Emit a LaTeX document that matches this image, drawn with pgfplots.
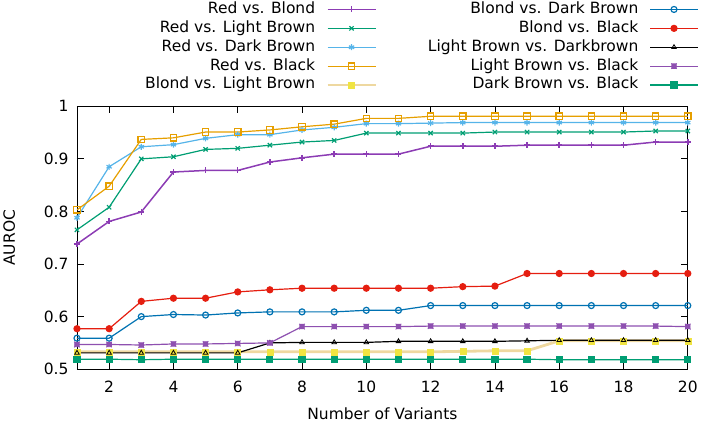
\documentclass[border=0pt]{standalone}
\usepackage{fontspec}
\setmainfont{DejaVu Sans}
\usepackage{pgfplots}
\pgfplotsset{compat=1.18}
\definecolor{cA}{HTML}{8C3CB4}
\definecolor{cB}{HTML}{009E73}
\definecolor{cC}{HTML}{56B4E9}
\definecolor{cD}{HTML}{E69F00}
\definecolor{cE}{HTML}{F0E442}
\definecolor{cEl}{HTML}{EED8A0}
\definecolor{cF}{HTML}{0072B2}
\definecolor{cG}{HTML}{E51E10}
\definecolor{cI}{HTML}{8E50B0}
\pgfdeclareplotmark{boxx}{%
  \pgfpathrectangle{\pgfpoint{-0.8\pgfplotmarksize}{-0.8\pgfplotmarksize}}{\pgfpoint{1.6\pgfplotmarksize}{1.6\pgfplotmarksize}}%
  \pgfpathmoveto{\pgfpoint{-\pgfplotmarksize}{-\pgfplotmarksize}}\pgfpathlineto{\pgfpoint{\pgfplotmarksize}{\pgfplotmarksize}}%
  \pgfpathmoveto{\pgfpoint{-\pgfplotmarksize}{\pgfplotmarksize}}\pgfpathlineto{\pgfpoint{\pgfplotmarksize}{-\pgfplotmarksize}}%
  \pgfusepathqfillstroke}
\begin{document}
\begin{tikzpicture}
\begin{axis}[
  scale only axis, width=611pt, height=263pt,
  xmin=1, xmax=20, ymin=0.5, ymax=1,
  xtick={2,4,...,20}, ytick={0.5,0.6,...,1.0},
  /pgf/number format/assume math mode=true,
  tick align=inside, major tick length=7pt,
  every tick/.style={black, line width=0.8pt},
  axis line style={line width=0.8pt},
  ticklabel style={font=\fontsize{15.5}{18}\selectfont},
  xticklabel style={yshift=-8pt},
  yticklabel style={xshift=-5pt},
  yticklabel style={/pgf/number format/.cd, fixed, precision=1},
  xlabel={Number of Variants}, ylabel={AUROC},
  label style={font=\fontsize{15.5}{18}\selectfont},
  xlabel style={at={(axis description cs:0.5,-0.171)}, anchor=center},
  ylabel style={at={(axis description cs:-0.111,0.5)}, anchor=center},
  legend columns=5, transpose legend, legend plot pos=right, legend cell align=right,
  legend image code/.code={\draw[mark repeat=2,mark phase=2,#1] plot coordinates {(0pt,0pt) (24pt,0pt) (48pt,0pt)};},
  legend style={draw=none, fill=none, inner sep=0pt, at={(1.018,1.405)}, anchor=north east,
    font=\fontsize{15.5}{18}\selectfont, row sep=0pt, column sep=11pt,
    /tikz/every even column/.append style={column sep=51pt},
    nodes={inner xsep=0pt, inner ysep=2.2pt, text height=11.2pt, text depth=3.3pt}},
  every axis plot/.append style={line width=1.2pt, mark options={solid}},
]
\addplot[cA, line width=1.5pt, mark=+, mark size=3pt] coordinates {
(1,0.738)(2,0.781)(3,0.799)(4,0.875)(5,0.878)(6,0.878)(7,0.894)(8,0.902)(9,0.909)(10,0.909)
(11,0.909)(12,0.924)(13,0.924)(14,0.924)(15,0.926)(16,0.926)(17,0.926)(18,0.926)(19,0.932)(20,0.932)};
\addlegendentry{Red vs. Blond}
\addplot[cB, mark=x, mark size=3pt] coordinates {
(1,0.765)(2,0.808)(3,0.900)(4,0.904)(5,0.918)(6,0.920)(7,0.926)(8,0.932)(9,0.935)(10,0.949)
(11,0.949)(12,0.949)(13,0.949)(14,0.951)(15,0.951)(16,0.951)(17,0.951)(18,0.951)(19,0.953)(20,0.953)};
\addlegendentry{Red vs. Light Brown}
\addplot[cC, mark=asterisk, mark size=3pt] coordinates {
(1,0.788)(2,0.885)(3,0.923)(4,0.927)(5,0.939)(6,0.946)(7,0.946)(8,0.955)(9,0.960)(10,0.967)
(11,0.967)(12,0.968)(13,0.969)(14,0.969)(15,0.969)(16,0.969)(17,0.969)(18,0.969)(19,0.969)(20,0.969)};
\addlegendentry{Red vs. Dark Brown}
\addplot[cD, mark=square, mark size=3.2pt] coordinates {
(1,0.803)(2,0.848)(3,0.937)(4,0.940)(5,0.951)(6,0.951)(7,0.955)(8,0.961)(9,0.966)(10,0.977)
(11,0.977)(12,0.981)(13,0.981)(14,0.981)(15,0.981)(16,0.981)(17,0.981)(18,0.981)(19,0.981)(20,0.981)};
\addlegendentry{Red vs. Black}
\addplot[cEl, line width=2.8pt, mark=square*, mark size=3pt, mark options={cE, fill=cE, line width=0.5pt}] coordinates {
(1,0.533)(2,0.533)(3,0.533)(4,0.533)(5,0.533)(6,0.533)(7,0.533)(8,0.533)(9,0.533)(10,0.533)
(11,0.533)(12,0.533)(13,0.534)(14,0.535)(15,0.535)(16,0.554)(17,0.554)(18,0.554)(19,0.554)(20,0.554)};
\addlegendentry{Blond vs. Light Brown}
\addplot[cF, mark=o, mark size=3pt] coordinates {
(1,0.559)(2,0.559)(3,0.600)(4,0.604)(5,0.603)(6,0.607)(7,0.609)(8,0.609)(9,0.609)(10,0.612)
(11,0.612)(12,0.621)(13,0.621)(14,0.621)(15,0.621)(16,0.621)(17,0.621)(18,0.621)(19,0.621)(20,0.621)};
\addlegendentry{Blond vs. Dark Brown}
\addplot[cG, mark=*, mark size=3pt] coordinates {
(1,0.577)(2,0.577)(3,0.629)(4,0.635)(5,0.635)(6,0.647)(7,0.651)(8,0.654)(9,0.654)(10,0.654)
(11,0.654)(12,0.654)(13,0.657)(14,0.658)(15,0.682)(16,0.682)(17,0.682)(18,0.682)(19,0.682)(20,0.682)};
\addlegendentry{Blond vs. Black}
\addplot[black, mark=triangle, mark size=2.6pt, mark options={line width=0.8pt}] coordinates {
(1,0.531)(2,0.531)(3,0.531)(4,0.531)(5,0.531)(6,0.531)(7,0.550)(8,0.551)(9,0.551)(10,0.551)
(11,0.553)(12,0.553)(13,0.553)(14,0.553)(15,0.554)(16,0.555)(17,0.555)(18,0.555)(19,0.555)(20,0.555)};
\addlegendentry{Light Brown vs. Darkbrown}
\addplot[cI, mark=boxx, mark size=2.8pt, mark options={fill=cI, line width=0.8pt}] coordinates {
(1,0.547)(2,0.547)(3,0.546)(4,0.548)(5,0.548)(6,0.549)(7,0.550)(8,0.581)(9,0.581)(10,0.581)
(11,0.581)(12,0.582)(13,0.582)(14,0.582)(15,0.582)(16,0.582)(17,0.582)(18,0.582)(19,0.582)(20,0.581)};
\addlegendentry{Light Brown vs. Black}
\addplot[cB, mark=square*, mark size=3pt] coordinates {
(1,0.519)(2,0.519)(3,0.518)(4,0.519)(5,0.519)(6,0.519)(7,0.519)(8,0.519)(9,0.519)(10,0.519)
(11,0.519)(12,0.519)(13,0.519)(14,0.519)(15,0.519)(16,0.518)(17,0.518)(18,0.518)(19,0.518)(20,0.518)};
\addlegendentry{Dark Brown vs. Black}
\end{axis}
\end{tikzpicture}
\end{document}
